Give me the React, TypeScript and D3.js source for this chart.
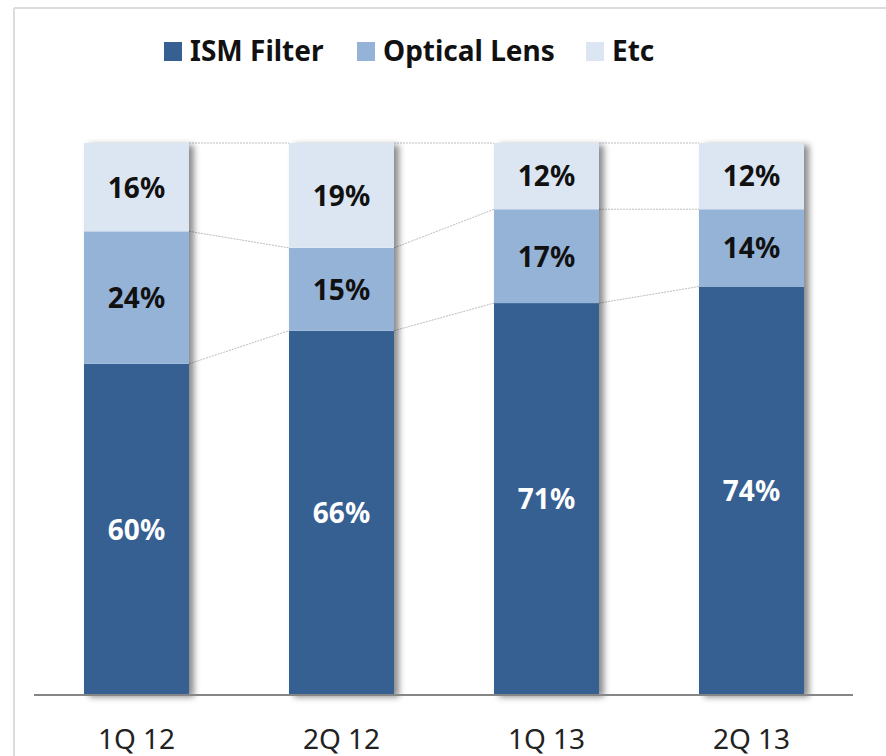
import React from 'react'
import * as d3 from 'd3'

const quarters = ['1Q 12', '2Q 12', '1Q 13', '2Q 13']
const ismFilter = [60, 66, 71, 74]
const opticalLens = [24, 15, 17, 14]
const etc = [16, 19, 12, 12]
const seriesNames = ['ISM Filter', 'Optical Lens', 'Etc']
const colours = ['#366092', '#95b3d7', '#dce6f2']
const labelColours = ['#ffffff', '#111111', '#111111']

const width = 886
const height = 756
const font = '"Noto Sans", "DejaVu Sans", sans-serif'

export default function App() {
  const x = d3.scaleBand().domain(quarters).range([34, 854]).paddingInner(100 / 205).paddingOuter(50 / 205)
  const y = d3.scaleLinear().domain([0, 100]).range([695, 143])

  const rows = quarters.map((q, i) => ({ q, ism: ismFilter[i], opt: opticalLens[i], etc: etc[i] }))
  const stack = d3.stack<any>().keys(['ism', 'opt', 'etc'])(rows)

  // dotted connectors between bars (top of each segment)
  const connectors: any[] = []
  stack.forEach((layer, li) => {
    for (let i = 0; i < quarters.length - 1; i++) {
      connectors.push(<line
        key={`c_${li}_${i}`}
        x1={x(quarters[i])! + x.bandwidth()}
        y1={y(layer[i][1])}
        x2={x(quarters[i + 1])!}
        y2={y(layer[i + 1][1])}
        stroke="#bdbdbd"
        strokeWidth={1}
        strokeDasharray="2,1" />)
    }
  })

  const legendX = [164, 357, 586]

  return (
    <svg width={width} height={height} style={{ position: 'absolute', left: 0, top: 0, background: '#fff' }}>
      <defs>
        <filter id="shadow" x="-10%" y="-5%" width="130%" height="110%">
          <feDropShadow dx="5" dy="2" stdDeviation="3" floodColor="#000" floodOpacity="0.45" />
        </filter>
      </defs>
      <line x1={14} y1={8} x2={width} y2={8} stroke="#dcdcdc" strokeWidth={2} />
      <line x1={14} y1={8} x2={14} y2={height} stroke="#dcdcdc" strokeWidth={2} />

      {seriesNames.map((name, i) => (
        <g key={name}>
          <rect x={legendX[i]} y={42} width={18} height={19} fill={colours[i]} />
          <text x={legendX[i] + 26} y={61} fontFamily={font} fontWeight="bold" fontSize={28} fill="#111">{name}</text>
        </g>
      ))}

      {connectors}

      {quarters.map(q => (
        <rect key={`s_${q}`} x={x(q)} y={y(100)} width={x.bandwidth()} height={y(0) - y(100)}
          fill="#fff" filter="url(#shadow)" />
      ))}

      {stack.map((layer, li) => layer.map((d, i) => (
        <g key={`b_${li}_${i}`}>
          <rect x={x(quarters[i])} y={y(d[1])} width={x.bandwidth()} height={y(d[0]) - y(d[1])} fill={colours[li]} />
          <text
            x={x(quarters[i])! + x.bandwidth() / 2}
            y={(y(d[0]) + y(d[1])) / 2}
            dy="0.37em"
            textAnchor="middle"
            fontFamily={font}
            fontWeight="bold"
            fontSize={28}
            fill={labelColours[li]}>{`${d[1] - d[0]}%`}</text>
        </g>
      )))}

      <line x1={34} y1={695} x2={853} y2={695} stroke="#868686" strokeWidth={2} />

      {quarters.map(q => (
        <text key={`t_${q}`} x={x(q)! + x.bandwidth() / 2} y={749} textAnchor="middle"
          fontFamily={font} fontSize={28} fill="#222">{q}</text>
      ))}
    </svg>
  )
}
